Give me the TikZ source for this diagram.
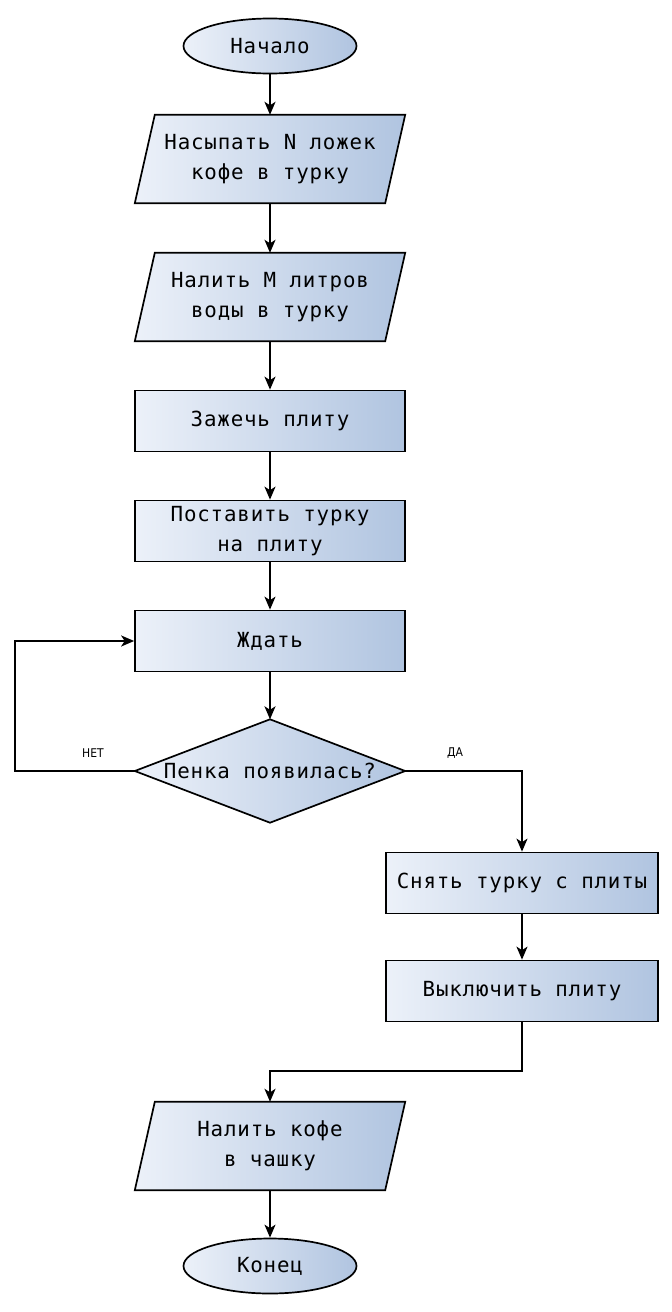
\documentclass[tikz,border=0pt]{standalone}
\usepackage{fontspec}
\newfontfamily\monof[LetterSpace=4]{DejaVu Sans Mono}
\newfontfamily\lblf{DejaVu Sans Condensed}
\usetikzlibrary{shapes.geometric,arrows.meta,calc,backgrounds}
\definecolor{cA}{RGB}{236,241,249}
\definecolor{cB}{RGB}{176,196,224}
\begin{document}
\begin{tikzpicture}[x=1pt,y=-1pt,
  txt/.style={font=\monof\fontsize{20.8}{30}\selectfont, align=center, text=black},
  fillstyle/.style={draw=black, line width=1.7pt, left color=cA, right color=cB},
  term/.style={txt, fillstyle, ellipse, minimum width=173pt, minimum height=55pt, inner sep=0pt},
  proc/.style={txt, fillstyle, rectangle, minimum width=270pt, minimum height=61pt, inner sep=0pt},
  iotext/.style={txt, rectangle, minimum width=270pt, minimum height=88pt, inner sep=0pt},
  iofill/.style={fillstyle, line join=miter},
  decision/.style={txt, rectangle, minimum width=270pt, minimum height=103pt, inner sep=0pt},
  arr/.style={line width=1.7pt, -{Stealth[length=13pt,width=11pt,inset=3.5pt]}},
  lbl/.style={font=\lblf\fontsize{12}{14}\selectfont, text=black}
]
\useasboundingbox (0,0) rectangle (672,1312);

\node[term] (start) at (270,46) {Начало};
\node[iotext] (p1) at (270,159) {Насыпать N ложек\\кофе в турку};
\node[iotext] (p2) at (270,297) {Налить M литров\\воды в турку};
\node[proc] (fire) at (270,421) {Зажечь плиту};
\node[proc] (put) at (270,531) {Поставить турку\\на плиту};
\node[proc] (wait) at (270,641) {Ждать};
\node[decision] (d) at (270,771) {Пенка появилась?};
\node[proc, minimum width=272pt] (off1) at (522,883) {Снять турку с плиты};
\node[proc, minimum width=272pt] (off2) at (522,991) {Выключить плиту};
\node[iotext] (p3) at (270,1146) {Налить кофе\\в чашку};
\node[term] (end) at (270,1266) {Конец};

\begin{scope}[on background layer]
  \foreach \n in {p1,p2,p3}{
    \path[iofill] ($(\n.north west)+(20,0)$) -- (\n.north east) -- ($(\n.south east)+(-20,0)$) -- (\n.south west) -- cycle;
  }
  \path[iofill] (d.north) -- (d.east) -- (d.south) -- (d.west) -- cycle;
\end{scope}

\node[lbl] (no) at (93,753) {НЕТ};
\node[lbl] (yes) at (455,753) {ДА};

\coordinate (loop) at (15,771);
\coordinate (join) at (522,1071);

\draw[arr] (start) -- (p1);
\draw[arr] (p1) -- (p2);
\draw[arr] (p2) -- (fire);
\draw[arr] (fire) -- (put);
\draw[arr] (put) -- (wait);
\draw[arr] (wait) -- (d.north);
\draw[arr] (d.west) -- (loop) |- (wait.west);
\draw[arr] (d.east) -| (off1.north);
\draw[arr] (off1) -- (off2);
\draw[arr] (off2.south) -- (join) -| (p3.north);
\draw[arr] (p3) -- (end);
\end{tikzpicture}
\end{document}
